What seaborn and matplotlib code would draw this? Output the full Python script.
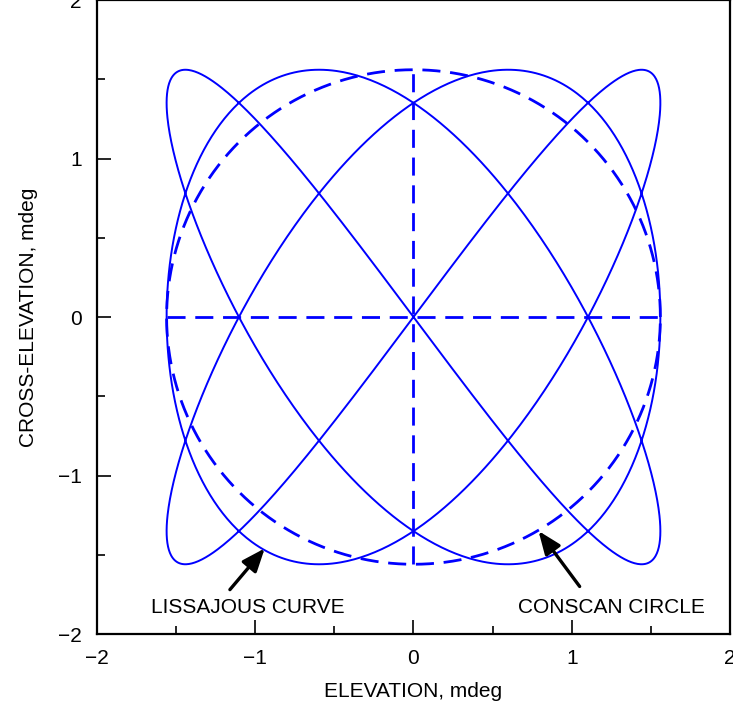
import numpy as np
import pandas as pd
import seaborn as sns
import matplotlib.pyplot as plt
from matplotlib.ticker import MultipleLocator

# -------------------------------------------------
# Curve parameters
# -------------------------------------------------
amplitude = 1.56          # mdeg, Lissajous half-width
freq_elev = 3             # elevation frequency
freq_xel = 4              # cross-elevation frequency
phase_xel = np.pi / 3     # phase of the cross-elevation term
conscan_radius = 1.56     # mdeg

axis_ticks = [-2, -1, 0, 1, 2]
labels = ["LISSAJOUS CURVE", "CONSCAN CIRCLE"]
label_xy = [(-1.05, -1.83), (1.25, -1.83)]
arrow_tail = [(-1.16, -1.72), (1.05, -1.70)]
arrow_tip = [(-0.94, -1.46), (0.79, -1.35)]

# -------------------------------------------------
# Build data
# -------------------------------------------------
t = np.linspace(0, 2 * np.pi, 2000)
liss_df = pd.DataFrame({
    "elev": amplitude * np.sin(freq_elev * t),
    "xel": amplitude * np.sin(freq_xel * t + phase_xel),
})
circ_df = pd.DataFrame({
    "elev": conscan_radius * np.cos(t),
    "xel": conscan_radius * np.sin(t),
})
hline_df = pd.DataFrame({"elev": [-conscan_radius, conscan_radius], "xel": [0, 0]})
vline_df = pd.DataFrame({"elev": [0, 0], "xel": [-conscan_radius, conscan_radius]})

# -------------------------------------------------
# Plot
# -------------------------------------------------
sns.set_style("ticks")
plt.rcParams["font.family"] = ["Liberation Sans", "DejaVu Sans"]
plt.rcParams.update({"text.color": "black", "axes.labelcolor": "black",
                     "xtick.color": "black", "ytick.color": "black"})
fs = 15

fig = plt.figure(figsize=(7.33, 7.19), dpi=100)
ax = fig.add_axes([0.1323, 0.1182, 0.8636, 0.8818])

sns.lineplot(data=liss_df, x="elev", y="xel", sort=False, estimator=None,
             color="#0000ff", linewidth=1.4, ax=ax)
for df in (circ_df, hline_df, vline_df):
    sns.lineplot(data=df, x="elev", y="xel", sort=False, estimator=None,
                 color="#0000ff", linewidth=2.0, dashes=False, ax=ax)
for line in ax.lines[1:]:
    line.set_dashes((6.5, 3.5))

for text, xy, tail, tip in zip(labels, label_xy, arrow_tail, arrow_tip):
    ax.text(xy[0], xy[1], text, ha="center", va="center", fontsize=fs)
    ax.annotate("", xy=tip, xytext=tail,
                arrowprops=dict(arrowstyle="-|>,head_length=1.0,head_width=0.4",
                                mutation_scale=14, color="black", lw=2.4,
                                shrinkA=0, shrinkB=0))

ax.set_xlim(-2, 2)
ax.set_ylim(-2, 2)
ax.set_xticks(axis_ticks)
ax.set_yticks(axis_ticks)
ax.xaxis.set_minor_locator(MultipleLocator(0.5))
ax.yaxis.set_minor_locator(MultipleLocator(0.5))
ax.tick_params(which="major", direction="in", length=10, width=1.2,
               labelsize=fs, pad=11, top=False, right=False)
ax.tick_params(which="minor", direction="in", length=6, width=1.2,
               top=False, right=False)
for s in ax.spines.values():
    s.set_linewidth(1.6)
    s.set_color("black")

ax.set_xlabel("ELEVATION, mdeg", fontsize=fs, labelpad=10)
ax.set_ylabel("CROSS-ELEVATION, mdeg", fontsize=fs, labelpad=14)

fig.savefig("out.png", dpi=100)
